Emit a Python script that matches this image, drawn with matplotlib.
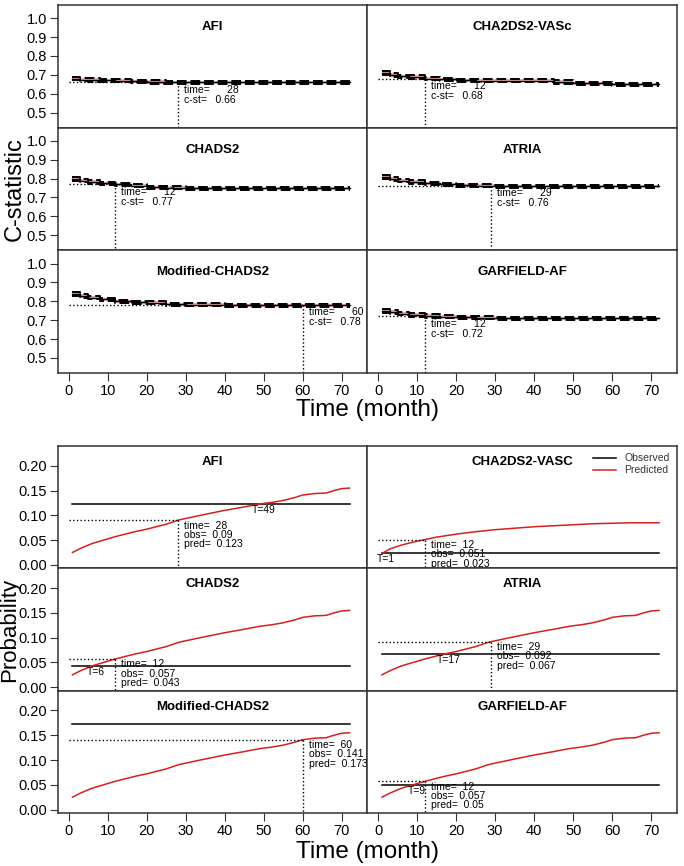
import numpy as np
import matplotlib.pyplot as plt

plt.rcParams['font.family'] = ['Liberation Sans', 'DejaVu Sans']

# ---- top block: time-dependent C-statistic ----
names_top = ["AFI", "CHA2DS2-VASc", "CHADS2", "ATRIA", "Modified-CHADS2", "GARFIELD-AF"]
t_steps = [1, 3, 5, 8, 12, 16, 20, 25, 30, 40, 45, 50, 60, 72]
cst_vals = [
    [0.680, 0.675, 0.672, 0.670, 0.668, 0.665, 0.662, 0.660, 0.660, 0.660, 0.660, 0.660, 0.660, 0.660],
    [0.710, 0.700, 0.692, 0.688, 0.680, 0.676, 0.672, 0.668, 0.668, 0.668, 0.662, 0.655, 0.650, 0.650],
    [0.800, 0.790, 0.782, 0.775, 0.770, 0.762, 0.755, 0.752, 0.750, 0.750, 0.750, 0.750, 0.750, 0.750],
    [0.810, 0.800, 0.790, 0.782, 0.775, 0.770, 0.765, 0.762, 0.760, 0.760, 0.760, 0.760, 0.760, 0.760],
    [0.840, 0.830, 0.820, 0.810, 0.800, 0.795, 0.792, 0.785, 0.782, 0.780, 0.780, 0.780, 0.780, 0.780],
    [0.750, 0.742, 0.735, 0.728, 0.722, 0.718, 0.715, 0.712, 0.710, 0.710, 0.710, 0.710, 0.710, 0.710],
]
cst_ci = [0.010, 0.010, 0.009, 0.009, 0.008, 0.008, 0.008, 0.008, 0.008, 0.008, 0.008, 0.008, 0.008, 0.008]
cst_time = [28, 12, 12, 29, 60, 12]
cst_at = [0.66, 0.68, 0.77, 0.76, 0.78, 0.72]

# ---- bottom block: observed vs predicted probability ----
names_bot = ["AFI", "CHA2DS2-VASC", "CHADS2", "ATRIA", "Modified-CHADS2", "GARFIELD-AF"]
t_pred = [1, 3, 6, 9, 12, 17, 20, 25, 28, 29, 35, 40, 45, 49, 52, 55, 58, 60, 63, 66, 68, 70, 72]
pred_main = [0.025, 0.033, 0.043, 0.050, 0.057, 0.067, 0.072, 0.082, 0.090, 0.092, 0.102, 0.110,
             0.117, 0.123, 0.126, 0.130, 0.136, 0.141, 0.144, 0.145, 0.150, 0.154, 0.155]
t_vasc = [1, 3, 6, 9, 12, 15, 20, 25, 30, 35, 40, 45, 50, 55, 60, 65, 72]
pred_vasc = [0.023, 0.032, 0.040, 0.046, 0.051, 0.056, 0.062, 0.067, 0.071, 0.074, 0.077,
             0.079, 0.081, 0.083, 0.084, 0.085, 0.085]
obs_line = [0.123, 0.023, 0.043, 0.067, 0.173, 0.05]
chk_time = [28, 12, 12, 29, 60, 12]
chk_obs = [0.09, 0.051, 0.057, 0.092, 0.141, 0.057]
chk_pred = ["0.123", "0.023", "0.043", "0.067", "0.173", "0.05"]
cross_t = [49, 1, 6, 17, None, 9]

fig = plt.figure(figsize=(6.84, 8.66), dpi=100)
W, H = 684, 866
x0, cw = 58, 309.5


def make_axes(top_px, bot_px):
    rh = (bot_px - top_px) / 3
    axs = []
    for r in range(3):
        for c in range(2):
            ax = fig.add_axes([(x0 + c * cw) / W, 1 - (top_px + (r + 1) * rh) / H, cw / W, rh / H])
            for s in ax.spines.values():
                s.set_color('#333333')
                s.set_linewidth(1.1)
            ax.tick_params(direction='out', length=6, labelsize=10.5, color='#333333', pad=2)
            ax.set_xlim(-2.7, 76.6)
            ax.set_xticks(range(0, 71, 10))
            if r < 2:
                ax.tick_params(axis='x', bottom=False, labelbottom=False)
            if c == 1:
                ax.tick_params(axis='y', left=False, labelleft=False)
            axs.append(ax)
    return axs


top_axes = make_axes(5, 373)
for i, ax in enumerate(top_axes):
    c = np.array(cst_vals[i])
    lo = c - np.array(cst_ci)
    hi = c + np.array(cst_ci)
    ax.fill_between(t_steps, lo, hi, step='post', color='#e08a8a', alpha=0.7, lw=0)
    ax.step(t_steps, hi, where='post', color='black', lw=1.4, ls=(0, (5, 2)))
    ax.step(t_steps, lo, where='post', color='black', lw=1.4, ls=(0, (5, 2)))
    ax.step(t_steps, c, where='post', color='black', lw=1.0)
    ax.plot([0, cst_time[i]], [cst_at[i], cst_at[i]], color='black', lw=1, ls=':')
    ax.plot([cst_time[i], cst_time[i]], [cst_at[i], 0.42], color='black', lw=1, ls=':')
    ax.text(cst_time[i] + 1.5, cst_at[i] - 0.012,
            "time=      %d\nc-st=   %.2f" % (cst_time[i], cst_at[i]),
            fontsize=7.5, va='top', ha='left', linespacing=1.0)
    ax.set_ylim(0.42, 1.07)
    ax.set_yticks([0.5, 0.6, 0.7, 0.8, 0.9, 1.0])
    ax.set_yticklabels(["0.5", "0.6", "0.7", "0.8", "0.9", "1.0"])
    ax.text(0.5, 0.82, names_top[i], transform=ax.transAxes, ha='center', va='center',
            fontsize=9.5, fontweight='bold')

bot_axes = make_axes(446, 813)
for i, ax in enumerate(bot_axes):
    if i == 1:
        tt, pp = t_vasc, pred_vasc
    else:
        tt, pp = t_pred, pred_main
    ax.plot([1, 72], [obs_line[i], obs_line[i]], color='black', lw=1.1, label='Observed')
    ax.plot(tt, pp, color='#d62020', lw=1.1, label='Predicted')
    ax.plot([0, chk_time[i]], [chk_obs[i], chk_obs[i]], color='black', lw=1, ls=':')
    ax.plot([chk_time[i], chk_time[i]], [chk_obs[i], -0.007], color='black', lw=1, ls=':')
    ax.text(chk_time[i] + 1.5, chk_obs[i] - 0.001,
            "time=  %d\nobs=  %s\npred=  %s" % (chk_time[i], str(chk_obs[i]), chk_pred[i]),
            fontsize=7.5, va='top', ha='left', linespacing=0.9)
    if cross_t[i] is not None:
        ax.text(cross_t[i] + 1, obs_line[i] - 0.002, "T=%d" % cross_t[i],
                fontsize=7.5, va='top', ha='center')
    ax.set_ylim(-0.007, 0.24)
    ax.set_yticks([0, 0.05, 0.10, 0.15, 0.20])
    ax.set_yticklabels(["0.00", "0.05", "0.10", "0.15", "0.20"])
    ax.text(0.5, 0.87, names_bot[i], transform=ax.transAxes, ha='center', va='center',
            fontsize=9.5, fontweight='bold')
    if i == 1:
        ax.legend(loc='upper right', frameon=False, fontsize=7.5, handlelength=2.2,
                  borderaxespad=0.3, labelspacing=0.2, labelcolor='#333333')

fig.text(15 / W, 1 - 189 / H, "C-statistic", rotation=90, ha='center', va='center', fontsize=17)
fig.text(368 / W, 1 - 410 / H, "Time (month)", ha='center', va='center', fontsize=17.5)
fig.text(10 / W, 1 - 630 / H, "Probability", rotation=90, ha='center', va='center', fontsize=16)
fig.text(368 / W, 1 - 852 / H, "Time (month)", ha='center', va='center', fontsize=17.5)

fig.savefig("out.png", dpi=100)
